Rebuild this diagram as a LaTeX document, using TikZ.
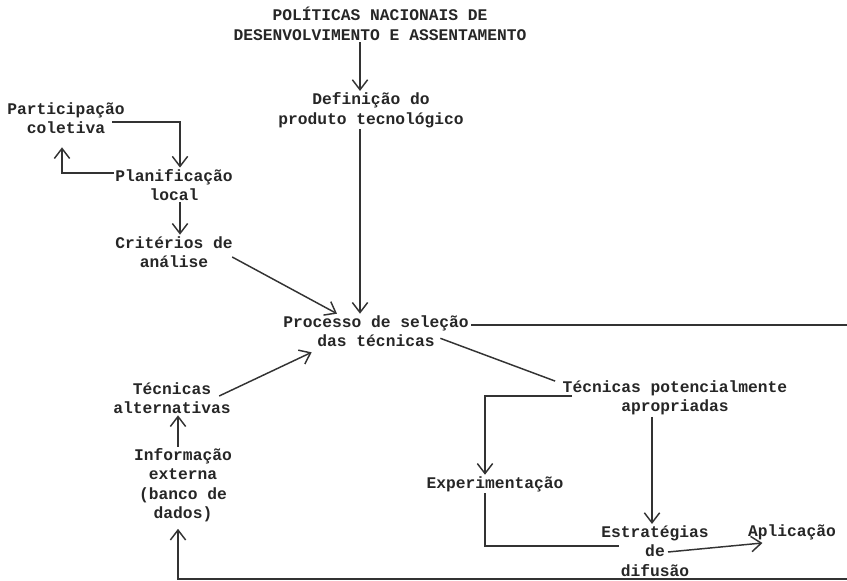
\documentclass[tikz,border=0pt]{standalone}
\usepackage{fontspec}
\setmonofont{Liberation Mono}
\usetikzlibrary{arrows.meta,calc}

\tikzset{
  box/.style={font=\ttfamily\bfseries\fontsize{12.2}{14.6}\selectfont, align=center, inner sep=1pt, text=black!85},
  link/.style={line width=1.1pt, draw=black!80},
  arr/.style={link, -{Straight Barb[length=7.5pt,width=11.5pt]}}
}

\begin{document}
\begin{tikzpicture}[x=0.75pt,y=-0.75pt]
\useasboundingbox (0,0) rectangle (847,581);
%\draw [help lines, step=50] (0,0) grid (847,581);
\node [box] (politicas) at (380,24) {POLÍTICAS NACIONAIS DE\\DESENVOLVIMENTO E ASSENTAMENTO};
\node [box] (definicao) at (371,110) {Definição do\\produto tecnológico};
\node [box] (participacao) at (66,118) {Participação\\coletiva};
\node [box] (planificacao) at (174,185) {Planificação\\local};
\node [box] (criterios) at (174,252) {Critérios de\\análise};
\node [box] (processo) at (376,331) {Processo de seleção\\das técnicas};
% left side
\node [box] (alternativas) at (172,398) {Técnicas\\alternativas};
\node [box] (informacao) at (183,485) {Informação\\externa\\(banco de\\dados)};
% right side
\node [box] (potenciais) at (675,398) {Técnicas potencialmente\\apropriadas};
\node [box] (experimentacao) at (495,484) {Experimentação};
\node [box] (estrategias) at (655,551) {Estratégias\\de\\difusão};
\node [box] (aplicacao) at (792,532) {Aplicação};

% columns and edge
\coordinate (colA) at (360,0);
\coordinate (colB) at (180,0);
\coordinate (colC) at (62,0);
\coordinate (colD) at (178,0);
\coordinate (colE) at (485,0);
\coordinate (colF) at (652,0);
\coordinate (edgeR) at (847,0);
\coordinate (edgeB) at (847,579);

% The links:
\draw [arr] (politicas.south -| colA) -- (definicao.north -| colA);
\draw [arr] (definicao.south -| colA) -- (processo.north -| colA);
\draw [arr] ($(participacao.east)+(-14,4)$) -| (planificacao.north -| colB);
\draw [arr, shorten >=9pt] ($(planificacao.west)+(0,-12)$) -| (participacao.south -| colC);
\draw [arr] (planificacao.south -| colB) -- (criterios.north -| colB);
\draw [arr] ($(criterios.east)+(-2,5)$) -- ($(processo.north)+(-39,0)$);
\draw [arr] ($(alternativas.east)+(-13,-2)$) -- ($(processo.south west)+(30,4)$);
\draw [arr] (informacao.north -| colD) -- (alternativas.south -| colD);

% Selection outputs
\draw [link] ($(processo.east)+(1,-6)$) coordinate (pe) -- (pe -| edgeR);
\draw [link] ($(processo.south east)+(-30,-10)$) -- ($(potenciais.north west)+(-6,2)$);
\draw [arr] ($(potenciais.west)+(11,-2)$) -| (experimentacao.north -| colE);
\draw [link] (experimentacao.south -| colE) |- ($(estrategias.west)+(19,-5)$);
\draw [arr] (potenciais.south -| colF) -- (estrategias.north -| colF);
\draw [arr] ($(estrategias.center)+(13,1)$) -- ($(aplicacao.west)+(16,11)$);
\draw [arr, shorten >=4pt] (edgeB) -| (informacao.south -| colD);
\end{tikzpicture}
\end{document}
